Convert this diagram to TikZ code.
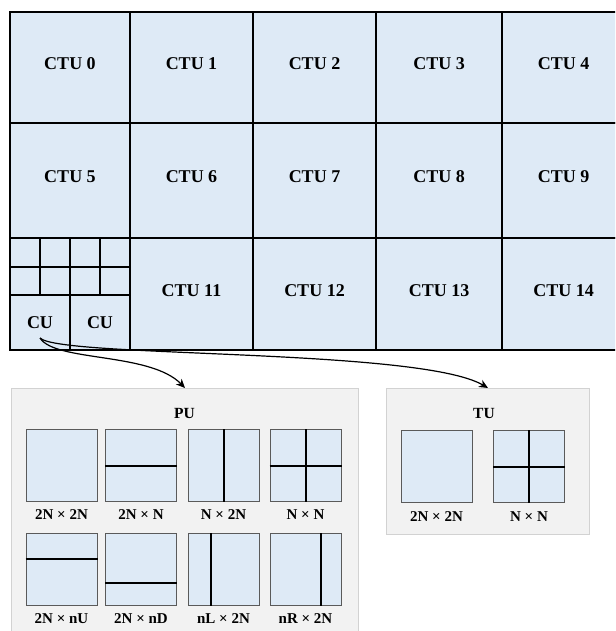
\documentclass[tikz,border=0pt]{standalone}
\usepackage{fontspec}
\setmainfont{Liberation Serif}
\usetikzlibrary{arrows.meta,calc}
\definecolor{cellblue}{HTML}{DEEAF6}
\definecolor{panelgray}{HTML}{F2F2F2}
\definecolor{panelline}{HTML}{D2D2D2}
\definecolor{sqline}{HTML}{5A5A5A}

\begin{document}
\begin{tikzpicture}[x=1pt,y=-1pt,
  cell/.style={draw=black, line width=2pt, fill=cellblue, inner sep=0pt,
    font=\bfseries\fontsize{18}{20}\selectfont},
  ctu/.style={cell, text depth=7pt},
  smallcell/.style={draw=black, line width=2pt, fill=cellblue, inner sep=0pt,
    minimum width=30pt, minimum height=28.5pt},
  panel/.style={draw=panelline, line width=1pt, fill=panelgray, inner sep=0pt,
    anchor=north west},
  paneltitle/.style={font=\bfseries\fontsize{15.5}{17}\selectfont},
  shape box/.style={draw=sqline, line width=1pt, fill=cellblue, inner sep=0pt,
    minimum width=71pt, minimum height=72pt},
  shape label/.style={font=\bfseries\fontsize{15}{17}\selectfont},
  split/.style={draw=black, line width=2pt},
  conn/.style={draw=black, line width=1.2pt, -{Stealth[length=9pt,width=8pt]}}
]
\clip (0,0) rectangle (615,631);
\fill[white] (0,0) rectangle (615,631);

% CTU grid, row 1
\node[ctu, minimum width=120pt, minimum height=111pt] (c0) at (70,67.5) {CTU 0};
\node[ctu, minimum width=123pt, minimum height=111pt] (c1) at (191.5,67.5) {CTU 1};
\node[ctu, minimum width=123pt, minimum height=111pt] (c2) at (314.5,67.5) {CTU 2};
\node[ctu, minimum width=126pt, minimum height=111pt] (c3) at (439,67.5) {CTU 3};
\node[ctu, minimum width=123pt, minimum height=111pt] (c4) at (563.5,67.5) {CTU 4};
% row 2
\node[ctu, minimum width=120pt, minimum height=115pt] (c5) at (70,180.5) {CTU 5};
\node[ctu, minimum width=123pt, minimum height=115pt] (c6) at (191.5,180.5) {CTU 6};
\node[ctu, minimum width=123pt, minimum height=115pt] (c7) at (314.5,180.5) {CTU 7};
\node[ctu, minimum width=126pt, minimum height=115pt] (c8) at (439,180.5) {CTU 8};
\node[ctu, minimum width=123pt, minimum height=115pt] (c9) at (563.5,180.5) {CTU 9};
% row 3
\node[ctu, minimum width=120pt, minimum height=112pt] (c10) at (70,294) {};
\node[ctu, minimum width=123pt, minimum height=112pt] (c11) at (191.5,294) {CTU 11};
\node[ctu, minimum width=123pt, minimum height=112pt] (c12) at (314.5,294) {CTU 12};
\node[ctu, minimum width=126pt, minimum height=112pt] (c13) at (439,294) {CTU 13};
\node[ctu, minimum width=123pt, minimum height=112pt] (c14) at (563.5,294) {CTU 14};

% quad-tree split of CTU 10
\foreach \i/\x in {1/25,2/55,3/85,4/115}{
  \node[smallcell] (qa\i) at (\x,252.25) {};
  \node[smallcell] (qb\i) at (\x,280.75) {};
}
\node[cell, minimum width=60pt, minimum height=55pt] (cuA) at (40,322.5) {CU};
\node[cell, minimum width=60pt, minimum height=55pt] (cuB) at (100,322.5) {CU};

% PU panel
\node[panel, minimum width=347pt, minimum height=260pt] (pu) at (11,388) {};
\node[paneltitle] (putitle) at (184.5,413) {PU};

\node[shape box] (p1) at (61.5,465.5) {};
\node[shape box] (p2) at (141,465.5) {};
\node[shape box] (p3) at (223.5,465.5) {};
\node[shape box] (p4) at (305.5,465.5) {};
\node[shape box] (p5) at (61.5,569.5) {};
\node[shape box] (p6) at (141,569.5) {};
\node[shape box] (p7) at (223.5,569.5) {};
\node[shape box] (p8) at (305.5,569.5) {};

\node[shape label] (l1) at (61.5,515) {2N × 2N};
\node[shape label] (l2) at (141,515) {2N × N};
\node[shape label] (l3) at (223.5,515) {N × 2N};
\node[shape label] (l4) at (305.5,515) {N × N};
\node[shape label] (l5) at (61.5,619) {2N × nU};
\node[shape label] (l6) at (141,619) {2N × nD};
\node[shape label] (l7) at (223.5,619) {nL × 2N};
\node[shape label] (l8) at (305.5,619) {nR × 2N};

% partition lines
\draw[split] (p2.west) -- (p2.east);
\draw[split] (p3.north) -- (p3.south);
\draw[split] (p4.west) -- (p4.east);
\draw[split] (p4.north) -- (p4.south);
\draw[split] ($(p5.north west)!0.35!(p5.south west)$) -- ($(p5.north east)!0.35!(p5.south east)$);
\draw[split] ($(p6.north west)!0.68!(p6.south west)$) -- ($(p6.north east)!0.68!(p6.south east)$);
\draw[split] ($(p7.north west)!0.32!(p7.north east)$) -- ($(p7.south west)!0.32!(p7.south east)$);
\draw[split] ($(p8.north west)!0.72!(p8.north east)$) -- ($(p8.south west)!0.72!(p8.south east)$);

% TU panel
\node[panel, minimum width=203pt, minimum height=146pt] (tu) at (386,388) {};
\node[paneltitle] (tutitle) at (484,413) {TU};
\node[shape box] (t1) at (436.5,466.5) {};
\node[shape box] (t2) at (529,466.5) {};
\node[shape label] (tl1) at (436.5,517) {2N × 2N};
\node[shape label] (tl2) at (529,517) {N × N};
\draw[split] (t2.west) -- (t2.east);
\draw[split] (t2.north) -- (t2.south);

% connectors from the CU
\coordinate (src) at (40,338);
\draw[conn] (src) .. controls (55,362) and (150,352) .. (pu.north);
\draw[conn] (src) .. controls (60,358) and (420,348) .. (tu.north);
\end{tikzpicture}
\end{document}
